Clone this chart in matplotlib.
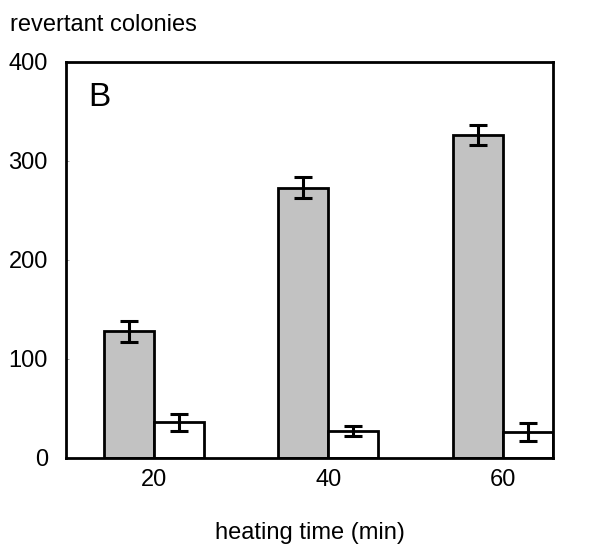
import matplotlib.pyplot as plt
import numpy as np

plt.rcParams["font.family"] = ["Liberation Sans", "DejaVu Sans"]

heating_time = ["20", "40", "60"]
gray_vals = [128, 273, 326]
gray_err = [10.5, 10.5, 10]
white_vals = [36, 27, 26]
white_err = [8.5, 5, 9]

fig = plt.figure(figsize=(5.89, 5.47), dpi=100)
ax = fig.add_axes([0.112, 0.163, 0.827, 0.724])

x = np.arange(len(heating_time))
w = 0.287
err_kw = dict(ecolor="black", elinewidth=2.2, capsize=6.2, capthick=2.2)
ax.bar(x - w / 2, gray_vals, w, yerr=gray_err, color="#c2c2c2",
       edgecolor="black", linewidth=2.0, error_kw=err_kw, zorder=2)
ax.bar(x + w / 2, white_vals, w, yerr=white_err, color="white",
       edgecolor="black", linewidth=2.0, error_kw=err_kw, zorder=2)

ax.set_xlim(-0.506, 2.29)
ax.set_ylim(0, 400)
ax.set_yticks([0, 100, 200, 300, 400])
ax.set_xticks(x)
ax.set_xticklabels(heating_time)
ax.tick_params(axis="x", length=0, pad=8, labelsize=17)
ax.tick_params(axis="y", direction="in", length=2, width=0.5, color="#888888",
               pad=13, labelsize=17)
for s in ax.spines.values():
    s.set_linewidth(2.0)

ax.set_xlabel("heating time (min)", fontsize=17, labelpad=22)
fig.text(0.017, 0.954, "revertant colonies", fontsize=17, ha="left", va="center")
ax.text(0.045, 0.91, "B", transform=ax.transAxes, fontsize=24,
        ha="left", va="center")

fig.savefig("out.png", dpi=100, facecolor="white")
